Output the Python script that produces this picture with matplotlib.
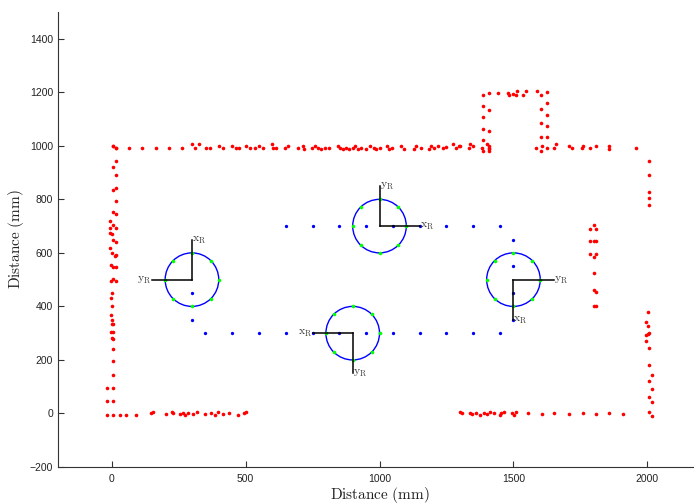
import numpy as np
import matplotlib
matplotlib.use("Agg")
import matplotlib.pyplot as plt
from matplotlib.patches import Circle

# ---------------- data ----------------
# laser map points (mm)
left_wall_x = [5, 15, 15, 7, 15, 5, 15, 15, 5, 15, -5, -5, 5, 15, -7, 3, 5, 15, -5, 3, 11, 15,
               -1, 5, 15, -4, 5, 15, 3, -1, 0, -4, 0, 3, 7, -4, 5, 3, 5, 5, 5, 5, -17, 5, -17, 5]
left_wall_y = [1001, 992, 942, 920, 892, 834, 842, 793, 753, 745, 718, 694, 704, 694, 675, 669, 650, 641,
               619, 600, 588, 591, 555, 548, 546, 495, 502, 495, 450, 430, 401, 367, 348, 334, 334, 306,
               306, 282, 280, 242, 195, 145, 94, 94, 45, 45]

bottom_x = [-17, 5, 30, 52, 92, 148, 154, 203, 225, 230, 256, 267, 274, 286, 304, 319, 349, 372, 387,
            398, 417, 440, 470, 493, 503,
            1299, 1307, 1337, 1345, 1360, 1375, 1390, 1402, 1413, 1428, 1450, 1455, 1465, 1495, 1503,
            1510, 1555, 1605, 1653, 1706, 1759, 1809, 1857, 1907]
bottom_y = [-5, -5, -5, -5, -5, 0, 5, -3, 5, 3, -3, 2, -5, 0, -3, 5, -3, 2, -5, 4, -3, 0, -5, 3, 6,
            5, 0, 3, -3, 0, -5, 2, -3, 4, 0, -5, 3, 6, 0, -4, 5, 0, -3, 0, -3, 0, -3, 0, -3]

right_wall_x = [2007, 2007, 2005, 2005, 2005,
                2001, 1995, 2001, 2007, 1995, 2001, 1995, 2007, 2007, 2016, 2007, 2016, 2007, 2016,
                2007, 2016]
right_wall_y = [942, 892, 828, 805, 778,
                380, 343, 328, 302, 294, 297, 270, 243, 182, 144, 123, 93, 63, 42, 4, -9]

obstacle_x = [1801, 1784, 1807, 1784, 1801, 1807, 1784, 1807, 1801, 1801, 1801, 1807, 1801, 1807]
obstacle_y = [704, 691, 691, 644, 644, 644, 595, 595, 585, 525, 463, 455, 403, 403]

top_x = [5, 15, 65, 114, 164, 214, 264, 301, 313, 328, 353, 366, 400, 415, 448, 463, 475, 500, 515,
         537, 550, 565, 597, 602, 614,
         646, 658, 695, 714, 720, 749, 761, 770, 782, 795, 813, 844, 851, 863, 876, 888, 901, 910,
         919, 932, 950, 963, 978, 988, 1000, 1027, 1034, 1047, 1081, 1093, 1127, 1137, 1155, 1184,
         1193, 1205, 1217, 1236,
         1249, 1274, 1284, 1296, 1301, 1333, 1338, 1348, 1383, 1401, 1408, 1408,
         1585, 1607, 1653, 1659, 1707, 1719, 1756, 1761, 1784, 1809, 1858, 1858, 1958]
top_y = [1001, 993, 993, 993, 993, 993, 993, 1008, 993, 1005, 993, 993, 999, 993, 999, 993, 993, 999,
         993, 993, 999, 993, 1005, 993, 993,
         993, 1001, 993, 999, 988, 993, 999, 993, 988, 993, 993, 999, 993, 988, 993, 988, 993, 999,
         988, 993, 988, 999, 993, 988, 993, 999, 988, 993, 999, 988, 988, 999, 993, 988,
         999, 993, 1001, 993,
         997, 1005, 993, 999, 999, 993, 1005, 999, 993, 1005, 999, 990,
         993, 1001, 993, 1005, 1001, 993, 993, 1001, 993, 1001, 1001, 990, 993]

bump_x = [1386, 1386, 1386, 1386, 1386, 1386, 1410, 1410, 1410, 1410, 1408,
          1444, 1478, 1485, 1498, 1511, 1514, 1537, 1548, 1587,
          1602, 1602, 1602, 1602, 1602, 1626, 1626, 1626, 1626, 1626, 1626]
bump_y = [1190, 1149, 1106, 1064, 1021, 982, 1197, 1135, 1057, 993, 982,
          1197, 1197, 1190, 1192, 1190, 1205, 1190, 1205, 1205,
          1190, 1138, 1086, 1034, 982, 1201, 1159, 1115, 1073, 1034, 993]

# robot trajectory (blue)
traj_x = [300, 300,
          350, 450, 550, 650, 750, 850, 950, 1050, 1150, 1250, 1350, 1450,
          1500, 1500, 1500, 1500,
          650, 750, 850, 950, 1050, 1150, 1250, 1350, 1450]
traj_y = [350, 450,
          300, 300, 300, 300, 300, 300, 300, 300, 300, 300, 300, 300,
          350, 450, 550, 650,
          700, 700, 700, 700, 700, 700, 700, 700, 700]

# robot poses (x, y, heading deg)
pose_x = [300, 1000, 900, 1500]
pose_y = [500, 700, 300, 500]
pose_th = [90, 0, 180, -90]
robot_radius = 100
frame_len = 150
sensor_angles = [0, 45, 90, 135, 180, 225, 270, 315]

xticks = [0, 500, 1000, 1500, 2000]
yticks = [-200, 0, 200, 400, 600, 800, 1000, 1200, 1400]

# ---------------- plot ----------------
plt.rcParams['mathtext.fontset'] = 'cm'
plt.rcParams['font.family'] = ['Liberation Sans', 'DejaVu Sans']

fig = plt.figure(figsize=(6.94, 5.04), dpi=100)
ax = fig.add_axes([58 / 694, 37 / 504, 643 / 694, 455 / 504])

map_x = left_wall_x + bottom_x + right_wall_x + obstacle_x + top_x + bump_x
map_y = left_wall_y + bottom_y + right_wall_y + obstacle_y + top_y + bump_y
ax.plot(map_x, map_y, 'o', color='#ff0000', ms=2.6, mec='none', zorder=2)
ax.plot(traj_x, traj_y, 'o', color='#0000ff', ms=2.4, mec='none', zorder=2)

txt_col = '#404040'
for px, py, th in zip(pose_x, pose_y, pose_th):
    ax.add_patch(Circle((px, py), robot_radius, fill=False, ec='#0000ff', lw=1.0, zorder=3))
    a = np.deg2rad(np.array(sensor_angles))
    ax.plot(px + robot_radius * np.cos(a), py + robot_radius * np.sin(a), 'o',
            color='#00ff00', ms=2.6, mec='none', zorder=4)
    t = np.deg2rad(th)
    axes_dirs = [(np.cos(t), np.sin(t), r'$\mathrm{x_R}$'),
                 (-np.sin(t), np.cos(t), r'$\mathrm{y_R}$')]
    for dx, dy, lab in axes_dirs:
        ex, ey = px + frame_len * dx, py + frame_len * dy
        ax.plot([px, ex], [py, ey], color='k', lw=1.1, zorder=5)
        ha = 'right' if dx < -0.5 else 'left'
        ax.text(ex, ey, lab, ha=ha, va='center', fontsize=8.5, color=txt_col, zorder=6)

ax.set_xlim(-200, 2200)
ax.set_ylim(-200, 1500)
ax.set_xticks(xticks)
ax.set_yticks(yticks)
ax.spines['top'].set_visible(False)
ax.spines['right'].set_visible(False)
for s in ('left', 'bottom'):
    ax.spines[s].set_color('#333333')
    ax.spines[s].set_linewidth(0.8)
ax.tick_params(direction='in', length=4, width=0.8, labelsize=7.5, colors='#333333',
               labelcolor='#222222')
ax.tick_params(axis='x', pad=5)
ax.set_xlabel(r'$\mathrm{Distance\ (mm)}$', fontsize=11, color='#222222', labelpad=1)
ax.set_ylabel(r'$\mathrm{Distance\ (mm)}$', fontsize=11, color='#222222', labelpad=3)

fig.savefig('out.png', dpi=100)
